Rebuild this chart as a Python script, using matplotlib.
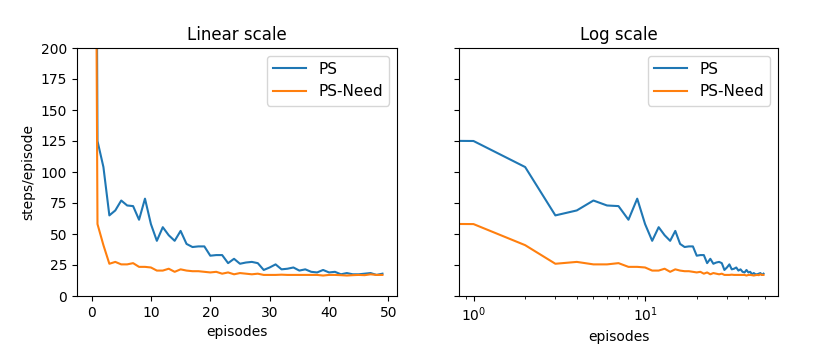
import numpy as np
import matplotlib
matplotlib.use("Agg")
import matplotlib.pyplot as plt

# --- Data ---
episodes = list(range(50))

ps = [1200, 125, 104, 65, 69, 77, 73, 72.5, 61.5, 78.5,
      58, 44.5, 55.5, 49, 44.5, 52.5, 42, 39.5, 40, 40,
      32.5, 33, 33, 26.5, 30, 26, 27, 27.5, 26.5, 21,
      23, 25.5, 21.5, 22, 23, 20.5, 21.5, 19.5, 19, 21,
      19, 19.5, 17.5, 18.5, 17.5, 17.5, 18, 18.5, 17, 18]

ps_need = [1000, 58, 41, 26, 27.5, 25.5, 25.5, 26.5, 23.5, 23.5,
           23, 20.5, 20.5, 22, 19.5, 21.5, 20.5, 20, 20, 19.5,
           19, 19.5, 18, 19, 17.5, 18.5, 18, 17.5, 18, 17,
           17, 17, 17.2, 17, 17, 17, 17, 17, 17, 16.5,
           17, 17, 16.8, 16.5, 16.8, 17, 16.8, 17.5, 17, 17]

labels = ["PS", "PS-Need"]
titles = ["Linear scale", "Log scale"]

fig = plt.figure(figsize=(8.3, 3.63), dpi=100)
ax1 = fig.add_axes([77 / 830, 67 / 363, 320 / 830, 248 / 363])
ax2 = fig.add_axes([459 / 830, 67 / 363, 319 / 830, 248 / 363], sharey=ax1)

for ax, title in zip([ax1, ax2], titles):
    ax.plot(episodes, ps, color="#1f77b4", label=labels[0])
    ax.plot(episodes, ps_need, color="#ff7f0e", label=labels[1])
    ax.set_title(title, fontsize=12)
    ax.set_xlabel("episodes")
    ax.legend(loc="upper right", fontsize=11, handlelength=2.2)

ax2.set_xscale("log")
ax1.set_ylim(0, 200)
ax1.set_ylabel("steps/episode")
plt.setp(ax2.get_yticklabels(), visible=False)

fig.savefig("out.png", dpi=100)
